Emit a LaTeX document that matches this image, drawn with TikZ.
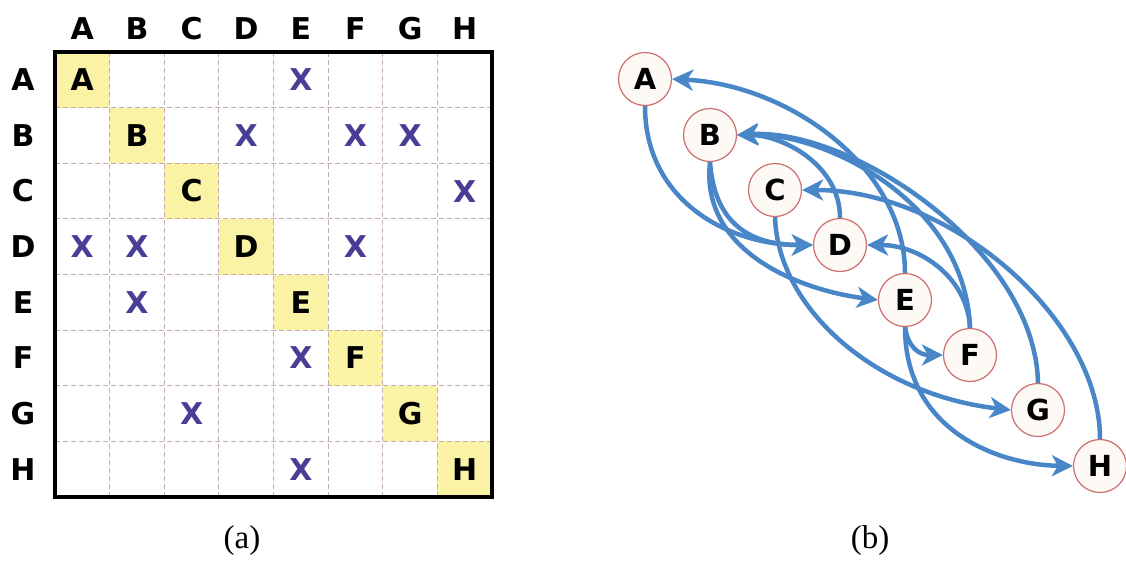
\documentclass[tikz,border=0pt]{standalone}
\usepackage{fontspec}
\setmainfont{Liberation Serif}
\newfontfamily\lblfont{DejaVu Sans}
\usetikzlibrary{arrows.meta}
\definecolor{edgeblue}{RGB}{72,134,200}
\definecolor{cellyellow}{RGB}{250,243,165}
\definecolor{gridpink}{RGB}{200,168,178}
\definecolor{xblue}{RGB}{72,62,150}
\definecolor{ringred}{RGB}{205,110,110}
\definecolor{nodefill}{RGB}{253,249,245}
\pgfdeclarelayer{edgelayer}
\pgfsetlayers{edgelayer,main}
\begin{document}
\begin{tikzpicture}[x=1pt,y=-1pt,
  lab/.style={font=\lblfont\bfseries\fontsize{30}{30}\selectfont, inner sep=0pt},
  xmark/.style={lab, text=xblue},
  gnode/.style={circle, draw=ringred, line width=1.2pt, fill=nodefill, minimum size=53pt, inner sep=0pt, font=\lblfont\bfseries\fontsize{29}{29}\selectfont},
  dep/.style={draw=edgeblue, line width=4.5pt, -{Stealth[length=21pt,width=21pt,inset=6pt]}},
  captxt/.style={font=\fontsize{33}{33}\selectfont, inner sep=0pt},
  gridline/.style={draw=gridpink, line width=1.1pt, dash pattern=on 5pt off 3pt}
]
\useasboundingbox (0,0) rectangle (1126,560);
\def\cw{54.625}
\def\ch{55.625}
% yellow diagonal cells
\foreach \i in {0,...,7}{
  \fill[cellyellow] ({55+\i*\cw},{52+\i*\ch}) rectangle ++(\cw,\ch);
}
% dashed grid
\foreach \k in {1,...,7}{
  \draw[gridline] ({55+\k*\cw},52) -- ({55+\k*\cw},497);
  \draw[gridline] (55,{52+\k*\ch}) -- (492,{52+\k*\ch});
}
\draw[line width=4.5pt] (55,52) rectangle (492,497);
% labels
\foreach \L [count=\i from 0] in {A,B,C,D,E,F,G,H}{
  \node[lab] (col\L) at ({55+(\i+0.5)*\cw},29) {\L};
  \node[lab] (row\L) at (23,{52+(\i+0.5)*\ch}) {\L};
  \node[lab] (diag\L) at ({55+(\i+0.5)*\cw},{52+(\i+0.5)*\ch}) {\L};
}
% X marks (row, column)
\foreach \r/\c in {1/5,2/4,2/6,2/7,3/8,4/1,4/2,4/6,5/2,6/5,7/3,8/5}{
  \node[xmark] (x\r\c) at ({55+(\c-0.5)*\cw},{52+(\r-0.5)*\ch}) {X};
}
% graph nodes
\node[gnode] (A) at (645,79) {A};
\node[gnode] (B) at (710,135) {B};
\node[gnode] (C) at (775,190) {C};
\node[gnode] (D) at (840,245) {D};
\node[gnode] (E) at (905,300) {E};
\node[gnode] (F) at (970,355) {F};
\node[gnode] (G) at (1038,410) {G};
\node[gnode] (H) at (1100,466) {H};
\begin{pgfonlayer}{edgelayer}
\draw[dep] (E.north) .. controls +(0,-104) and +(119,6) .. (A.east);
\draw[dep] (D.north) .. controls +(0,-54) and +(44,0) .. (B.east);
\draw[dep] (F.north) .. controls +(-5,-129) and +(84,-3) .. (B.east);
\draw[dep] (G.north) .. controls +(-3,-134) and +(114,-7) .. (B.east);
\draw[dep] (H.north) .. controls +(0,-120) and +(149,0) .. (C.east);
\draw[dep] (F.north) .. controls +(-2,-49) and +(54,0) .. (D.east);
\draw[dep] (A.south) .. controls +(0,95) and +(-84,0) .. (D.west);
\draw[dep] (B.south) .. controls +(5,69) and +(-54,0) .. (D.west);
\draw[dep] (B.south) .. controls +(-10,89) and +(-79,-10) .. (E.west);
\draw[dep] (C.south) .. controls +(3,94) and +(-132,-15) .. (G.west);
\draw[dep] (E.south) .. controls +(0,104) and +(-74,-1) .. (H.west);
\draw[dep] (E.south) .. controls +(3,20) and +(-24,0) .. (F.west);
\end{pgfonlayer}
% captions
\node[captxt] (capa) at (242,541) {(a)};
\node[captxt] (capb) at (870,541) {(b)};
\end{tikzpicture}
\end{document}
